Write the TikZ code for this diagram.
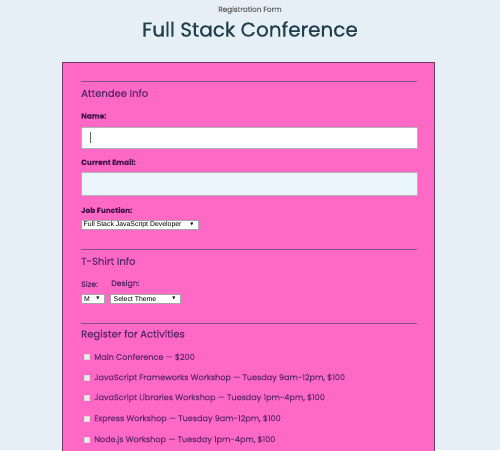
\documentclass[tikz,border=0pt]{standalone}
\usepackage{fontspec}
\setmainfont{Poppins}[UprightFeatures={FakeBold=0.5},BoldFeatures={FakeBold=0.1}]
\newfontfamily\formfont{Liberation Sans}
\newfontfamily\symfont{DejaVu Sans}
\definecolor{pagebg}{HTML}{E6EFF5}
\definecolor{formpink}{HTML}{FF69C6}
\definecolor{formedge}{HTML}{6E3A6C}
\definecolor{ruleline}{HTML}{84508A}
\definecolor{titleink}{HTML}{1F3F4C}
\definecolor{headink}{HTML}{5A2769}
\definecolor{labelink}{HTML}{471550}
\definecolor{actink}{HTML}{672A6E}
\definecolor{mailbg}{HTML}{EAF6FB}
\tikzset{
  heading/.style={anchor=west,inner sep=0pt,text=headink,font=\fontsize{10}{12}\selectfont},
  fieldlabel/.style={anchor=west,inner sep=0pt,text=labelink,font=\bfseries\fontsize{7.4}{9}\selectfont},
  sizelabel/.style={anchor=west,inner sep=0pt,text=headink,font=\fontsize{7.8}{9}\selectfont},
  inputbox/.style={draw=black!30,line width=.8pt},
  selectbox/.style={draw=black!35,fill=white,line width=.4pt},
  selecttext/.style={anchor=west,inner sep=0pt,font=\formfont\fontsize{6.9}{8}\selectfont},
  arrowmark/.style={inner sep=0pt,font=\symfont\fontsize{4}{5}\selectfont},
  tickbox/.style={fill=black!8,draw=black!15,line width=.3pt},
  activity/.style={anchor=west,inner sep=0pt,text=actink,font=\fontsize{8.1}{9}\selectfont},
  sectionrule/.style={draw=ruleline,line width=.8pt}
}
\begin{document}
\begin{tikzpicture}[x=1pt,y=-1pt]
\useasboundingbox (0,0) rectangle (500,450);
\fill[pagebg] (0,0) rectangle (500,450);

% page title
\node[text=black!60,font=\fontsize{7.2}{9}\selectfont] (formtag) at (250,10) {Registration Form};
\node[text=titleink,font=\fontsize{20}{24}\selectfont] (title) at (250,29) {Full Stack Conference};

% form panel
\draw[formedge,fill=formpink,line width=1pt] (62.5,62.5) rectangle (434.5,460);

% attendee info
\draw[sectionrule] (81,81) -- (417,81);
\node[heading] (attendee) at (81,93) {Attendee Info};
\node[fieldlabel] (namelbl) at (81,116) {Name:};
\draw[inputbox,fill=white] (81,127) rectangle (417,148);
\draw[black!60,line width=.5pt] (90,132) -- (90,143);
\node[fieldlabel] (maillbl) at (81,162) {Current Email:};
\draw[inputbox,fill=mailbg] (81,172) rectangle (417,195);
\node[fieldlabel] (joblbl) at (81,210) {Job Function:};
\draw[selectbox] (81,220.5) rectangle (198,229);
\node[selecttext] (jobsel) at (83.5,224.8) {Full Stack JavaScript Developer};
\node[arrowmark] at (192,224.8) {▼};

% t-shirt info
\draw[sectionrule] (81,249) -- (417,249);
\node[heading] (tshirt) at (81,261) {T-Shirt Info};
\node[sizelabel] (sizelbl) at (81,284) {Size:};
\node[sizelabel] (designlbl) at (111,284) {Design:};
\draw[selectbox] (81,294.5) rectangle (104,303);
\node[selecttext] (sizesel) at (84,298.8) {M};
\node[arrowmark] at (98,298.8) {▼};
\draw[selectbox] (110.5,294.5) rectangle (180,303);
\node[selecttext] (designsel) at (113.5,298.8) {Select Theme};
\node[arrowmark] at (174,298.8) {▼};

% activities
\draw[sectionrule] (81,323) -- (417,323);
\node[heading] (register) at (81,335) {Register for Activities};
\foreach \y/\act in {357/{Main Conference — \$200},
                     378/{JavaScript Frameworks Workshop — Tuesday 9am-12pm, \$100},
                     398/{JavaScript Libraries Workshop — Tuesday 1pm-4pm, \$100},
                     419/{Express Workshop — Tuesday 9am-12pm, \$100},
                     440/{Node.js Workshop — Tuesday 1pm-4pm, \$100}}{
  \draw[tickbox] (84,\y-2.6) rectangle (89,\y+2.6);
  \node[activity] at (94,\y) {\act};
}
\end{tikzpicture}
\end{document}
